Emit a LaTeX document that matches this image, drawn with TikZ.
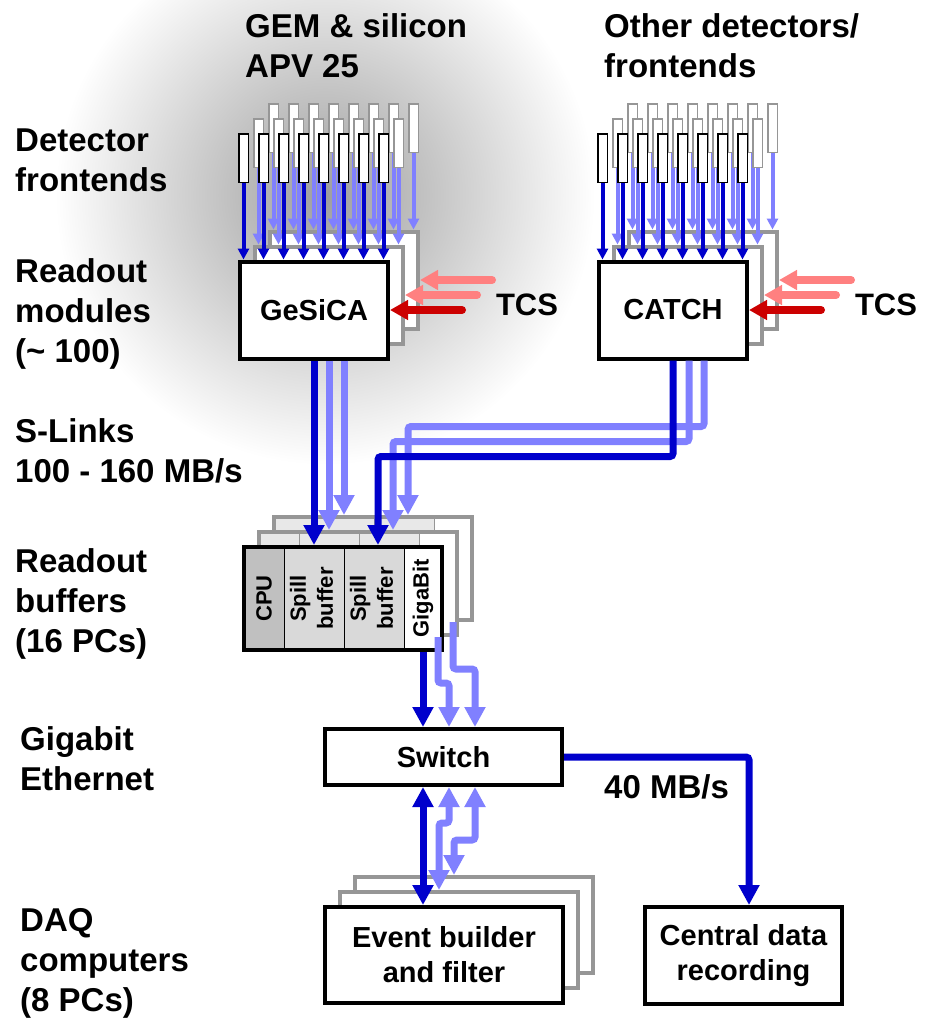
\documentclass[tikz,border=0pt]{standalone}
\usepackage{fontspec}
\setmainfont{Liberation Sans}
\usepackage{tikz}
\usetikzlibrary{arrows.meta, positioning, calc}
\definecolor{darkblue}{RGB}{0, 0, 204}
\definecolor{lightblue}{RGB}{128, 128, 255}
\definecolor{darkred}{RGB}{204, 0, 0}
\definecolor{lightred}{RGB}{255, 128, 128}
\definecolor{boxgray}{RGB}{150, 150, 150}
\definecolor{cpugray}{RGB}{192, 192, 192}
\definecolor{spillgray}{RGB}{217, 217, 217}
\definecolor{backgray}{RGB}{232, 232, 232}
\tikzset{
    sidelabel/.style = {anchor=north west, align=left, inner sep=0pt, font=\bfseries\fontsize{33}{40}\selectfont},
    tcstext/.style = {inner sep=0pt, font=\bfseries\fontsize{31}{37}\selectfont},
    modbox/.style = {rectangle, draw=black, fill=white, line width=4pt, minimum width=148pt, minimum height=97pt, align=center, font=\bfseries\fontsize{29}{35}\selectfont},
    modback/.style = {modbox, draw=boxgray},
    fe/.style = {rectangle, draw=black, fill=white, line width=1.5pt, minimum width=9.5pt, minimum height=48.5pt, inner sep=0pt},
    feback/.style = {fe, draw=boxgray},
    secfront/.style = {rectangle, draw=black, line width=1pt, minimum height=103pt, inner sep=0pt, outer sep=0pt, font=\bfseries\fontsize{22}{27}\selectfont},
    secback/.style = {secfront, draw=boxgray, fill=backgray},
    bufframe/.style = {rectangle, draw=black, line width=4pt, minimum width=198pt, minimum height=103pt},
    fearrow/.style = {line width=4pt, -{Triangle[width=11pt, length=11pt]}},
    tcsarrow/.style = {line width=8pt, line cap=round, -{Triangle[width=19pt, length=18pt]}},
    slink/.style = {line width=7pt, rounded corners=3pt, -{Triangle[width=20pt, length=20pt]}},
    slinkboth/.style = {line width=7pt, rounded corners=3pt, {Triangle[width=20pt, length=20pt]}-{Triangle[width=20pt, length=20pt]}}
}
\begin{document}
\begin{tikzpicture}[x=1pt, y=-1pt]
\useasboundingbox (0,0) rectangle (926,1021);

% grey halo behind the GEM readout
\begin{scope}
    \clip (0,0) rectangle (926,1021);
    \shade [inner color=black!38, outer color=white] (325,195) circle (270pt);
\end{scope}

% row labels
\node (gem-title) [sidelabel] at (245,13) {GEM \& silicon\\APV 25};
\node (other-title) [sidelabel] at (604,13) {Other detectors/\\frontends};
\node (fe-label) [sidelabel] at (15,129) {Detector\\frontends};
\node (mod-label) [sidelabel] at (15,258) {Readout\\modules\\(\textasciitilde{} 100)};
\node (slink-label) [sidelabel] at (15,418) {S-Links\\100 - 160 MB/s};
\node (buf-label) [sidelabel] at (15,548) {Readout\\buffers\\(16 PCs)};
\node (gbe-label) [sidelabel] at (20,726) {Gigabit\\Ethernet};
\node (daq-label) [sidelabel] at (20,908) {DAQ\\computers\\(8 PCs)};

% readout modules with their frontends
\foreach \m/\name/\x in {gesica/GeSiCA/314, catch/CATCH/673} {
    \node (\m-b2) [modback] at (\x+30,280) {};
    \node (\m-b1) [modback] at (\x+15,295) {};
    \node (\m) [modbox] at (\x,310) {\name};
    \draw [tcsarrow, lightred] ([xshift=72pt]\m-b2.east) -- (\m-b2.east);
    \draw [tcsarrow, lightred] ([xshift=72pt]\m-b1.east) -- (\m-b1.east);
    \draw [tcsarrow, darkred] ([xshift=72pt]\m.east) -- (\m.east);
    \node (\m-tcs) [tcstext] at (\x+213,305) {TCS};
    \foreach \i in {0,...,7} {
        \node (\m-fe3-\i) [feback] at (\x-40.5+20*\i,128) {};
        \draw [fearrow, lightblue] (\m-fe3-\i) -- (\m-fe3-\i |- \m-b2.north);
    }
    \foreach \i in {0,...,7} {
        \node (\m-fe2-\i) [feback] at (\x-55.5+20*\i,143) {};
        \draw [fearrow, lightblue] (\m-fe2-\i) -- (\m-fe2-\i |- \m-b1.north);
    }
    \foreach \i in {0,...,7} {
        \node (\m-fe1-\i) [fe] at (\x-70.5+20*\i,158) {};
        \draw [fearrow, darkblue] (\m-fe1-\i) -- (\m-fe1-\i |- \m.north);
    }
}

% readout buffers, rear PCs first
\foreach \k/\d in {b2/30, b1/15} {
    \node (cpu-\k) [secback, minimum width=40pt] at (264+\d,598.5-\d) {};
    \node (spill1-\k) [secback, minimum width=60pt, right=0pt of cpu-\k] {};
    \node (spill2-\k) [secback, minimum width=60pt, right=0pt of spill1-\k] {};
    \node (giga-\k) [secback, fill=white, minimum width=38pt, right=0pt of spill2-\k] {};
    \node (buf-\k) [bufframe, draw=boxgray] at (343+\d,598.5-\d) {};
}
\node (cpu) [secfront, fill=cpugray, minimum width=40pt] at (264,598.5) {\rotatebox{90}{CPU}};
\node (spill1) [secfront, fill=spillgray, minimum width=60pt, right=0pt of cpu] {\rotatebox{90}{\begin{tabular}{@{}c@{}}Spill\\buffer\end{tabular}}};
\node (spill2) [secfront, fill=spillgray, minimum width=60pt, right=0pt of spill1] {\rotatebox{90}{\begin{tabular}{@{}c@{}}Spill\\buffer\end{tabular}}};
\node (giga) [secfront, fill=white, minimum width=38pt, right=0pt of spill2] {\rotatebox{90}{GigaBit}};
\node (buf) [bufframe] at (343,598.5) {};

% switch and computers
\node (switch) [modbox, minimum width=237pt, minimum height=56pt] at (443.5,757) {Switch};
\node (evb-b2) [modback, minimum width=238pt, minimum height=96pt] at (474,925) {};
\node (evb-b1) [modback, minimum width=238pt, minimum height=96pt] at (459,940) {};
\node (evb) [modbox, minimum width=238pt, minimum height=96pt] at (444,955) {Event builder\\and filter};
\node (central) [modbox, minimum width=197pt, minimum height=97pt] at (743.5,955.5) {Central data\\recording};

% S-links
\draw [slink, lightblue] (spill1-b2 |- gesica.south) -- (spill1-b2 |- buf-b2.north);
\draw [slink, lightblue] (spill1-b1 |- gesica.south) -- (spill1-b1 |- buf-b1.north);
\draw [slink, darkblue] (spill1 |- gesica.south) -- (spill1 |- buf.north);
\draw [slink, lightblue] ([xshift=31pt]catch.south) -- ++(0,66) -| ([xshift=4pt]spill2-b2.north |- buf-b2.north);
\draw [slink, lightblue] ([xshift=16pt]catch.south) -- ++(0,81) -| ([xshift=4pt]spill2-b1.north |- buf-b1.north);
\draw [slink, darkblue] (catch.south) -- ++(0,96) -| ([xshift=4pt]spill2.north |- buf.north);

% gigabit ethernet
\draw [slink, lightblue] (giga-b2 |- buf-b2.south) -- ++(0,47) -| ([xshift=31.5pt]switch.north);
\draw [slink, lightblue] (giga-b1 |- buf-b1.south) -- ++(0,46) -| ([xshift=5.5pt]switch.north);
\draw [slink, darkblue] (giga |- buf.south) -- (giga |- switch.north);
\draw [slinkboth, lightblue] ([xshift=31.5pt]switch.south) -- ++(0,53) -| ([xshift=-20pt]evb-b2.north);
\draw [slinkboth, lightblue] ([xshift=5.5pt]switch.south) -- ++(0,36) -| ([xshift=-20pt]evb-b1.north);
\draw [slinkboth, darkblue] ([xshift=-21pt]evb.north |- switch.south) -- ([xshift=-21pt]evb.north);
\draw [slink, darkblue] (switch.east) -| ([xshift=5.5pt]central.north);
\node (rate) [sidelabel, anchor=west] at (604,787) {40 MB/s};
\end{tikzpicture}
\end{document}
